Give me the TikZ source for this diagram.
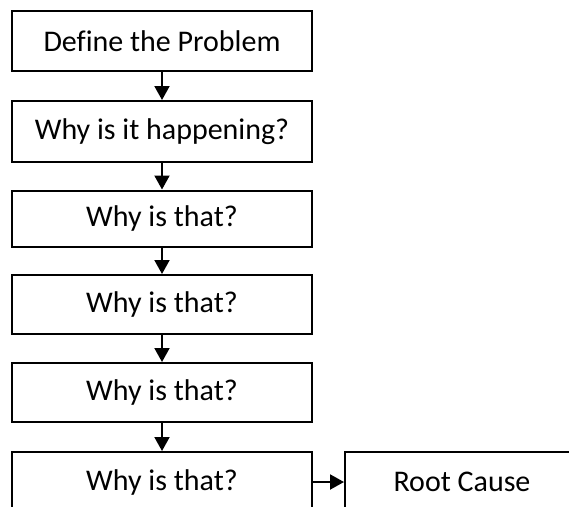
\documentclass[tikz,border=0pt]{standalone}
\usepackage{fontspec}
\setmainfont[Ligatures=NoCommon]{Carlito}
\usetikzlibrary{arrows.meta}
\begin{document}
\begin{tikzpicture}[x=1pt,y=-1pt,
  box/.style={draw, line width=2pt, minimum width=300pt, inner sep=0pt,
    font=\fontsize{30}{34}\selectfont},
  arr/.style={line width=2pt, -{Triangle[width=15pt,length=14pt]}}]
\useasboundingbox (0,0) rectangle (569,506);
\clip (0,0) rectangle (569,506);
\node[box, minimum height=60pt] (p) at (162,41) {Define the Problem};
\node[box, minimum height=61pt] (w1) at (162,131.5) {Why is it happening?};
\node[box, minimum height=56pt] (w2) at (162,218.5) {Why is that?};
\node[box, minimum height=59pt] (w3) at (162,304.5) {Why is that?};
\node[box, minimum height=59pt] (w4) at (162,392.5) {Why is that?};
\node[box, minimum height=60pt] (w5) at (162,482) {Why is that?};
\node[box, minimum width=234pt, minimum height=60pt] (rc) at (462,482) {Root Cause};
\draw[arr] (p) -- (w1);
\draw[arr] (w1) -- (w2);
\draw[arr] (w2) -- (w3);
\draw[arr] (w3) -- (w4);
\draw[arr] (w4) -- (w5);
\draw[arr] (w5) -- (rc);
\end{tikzpicture}
\end{document}
